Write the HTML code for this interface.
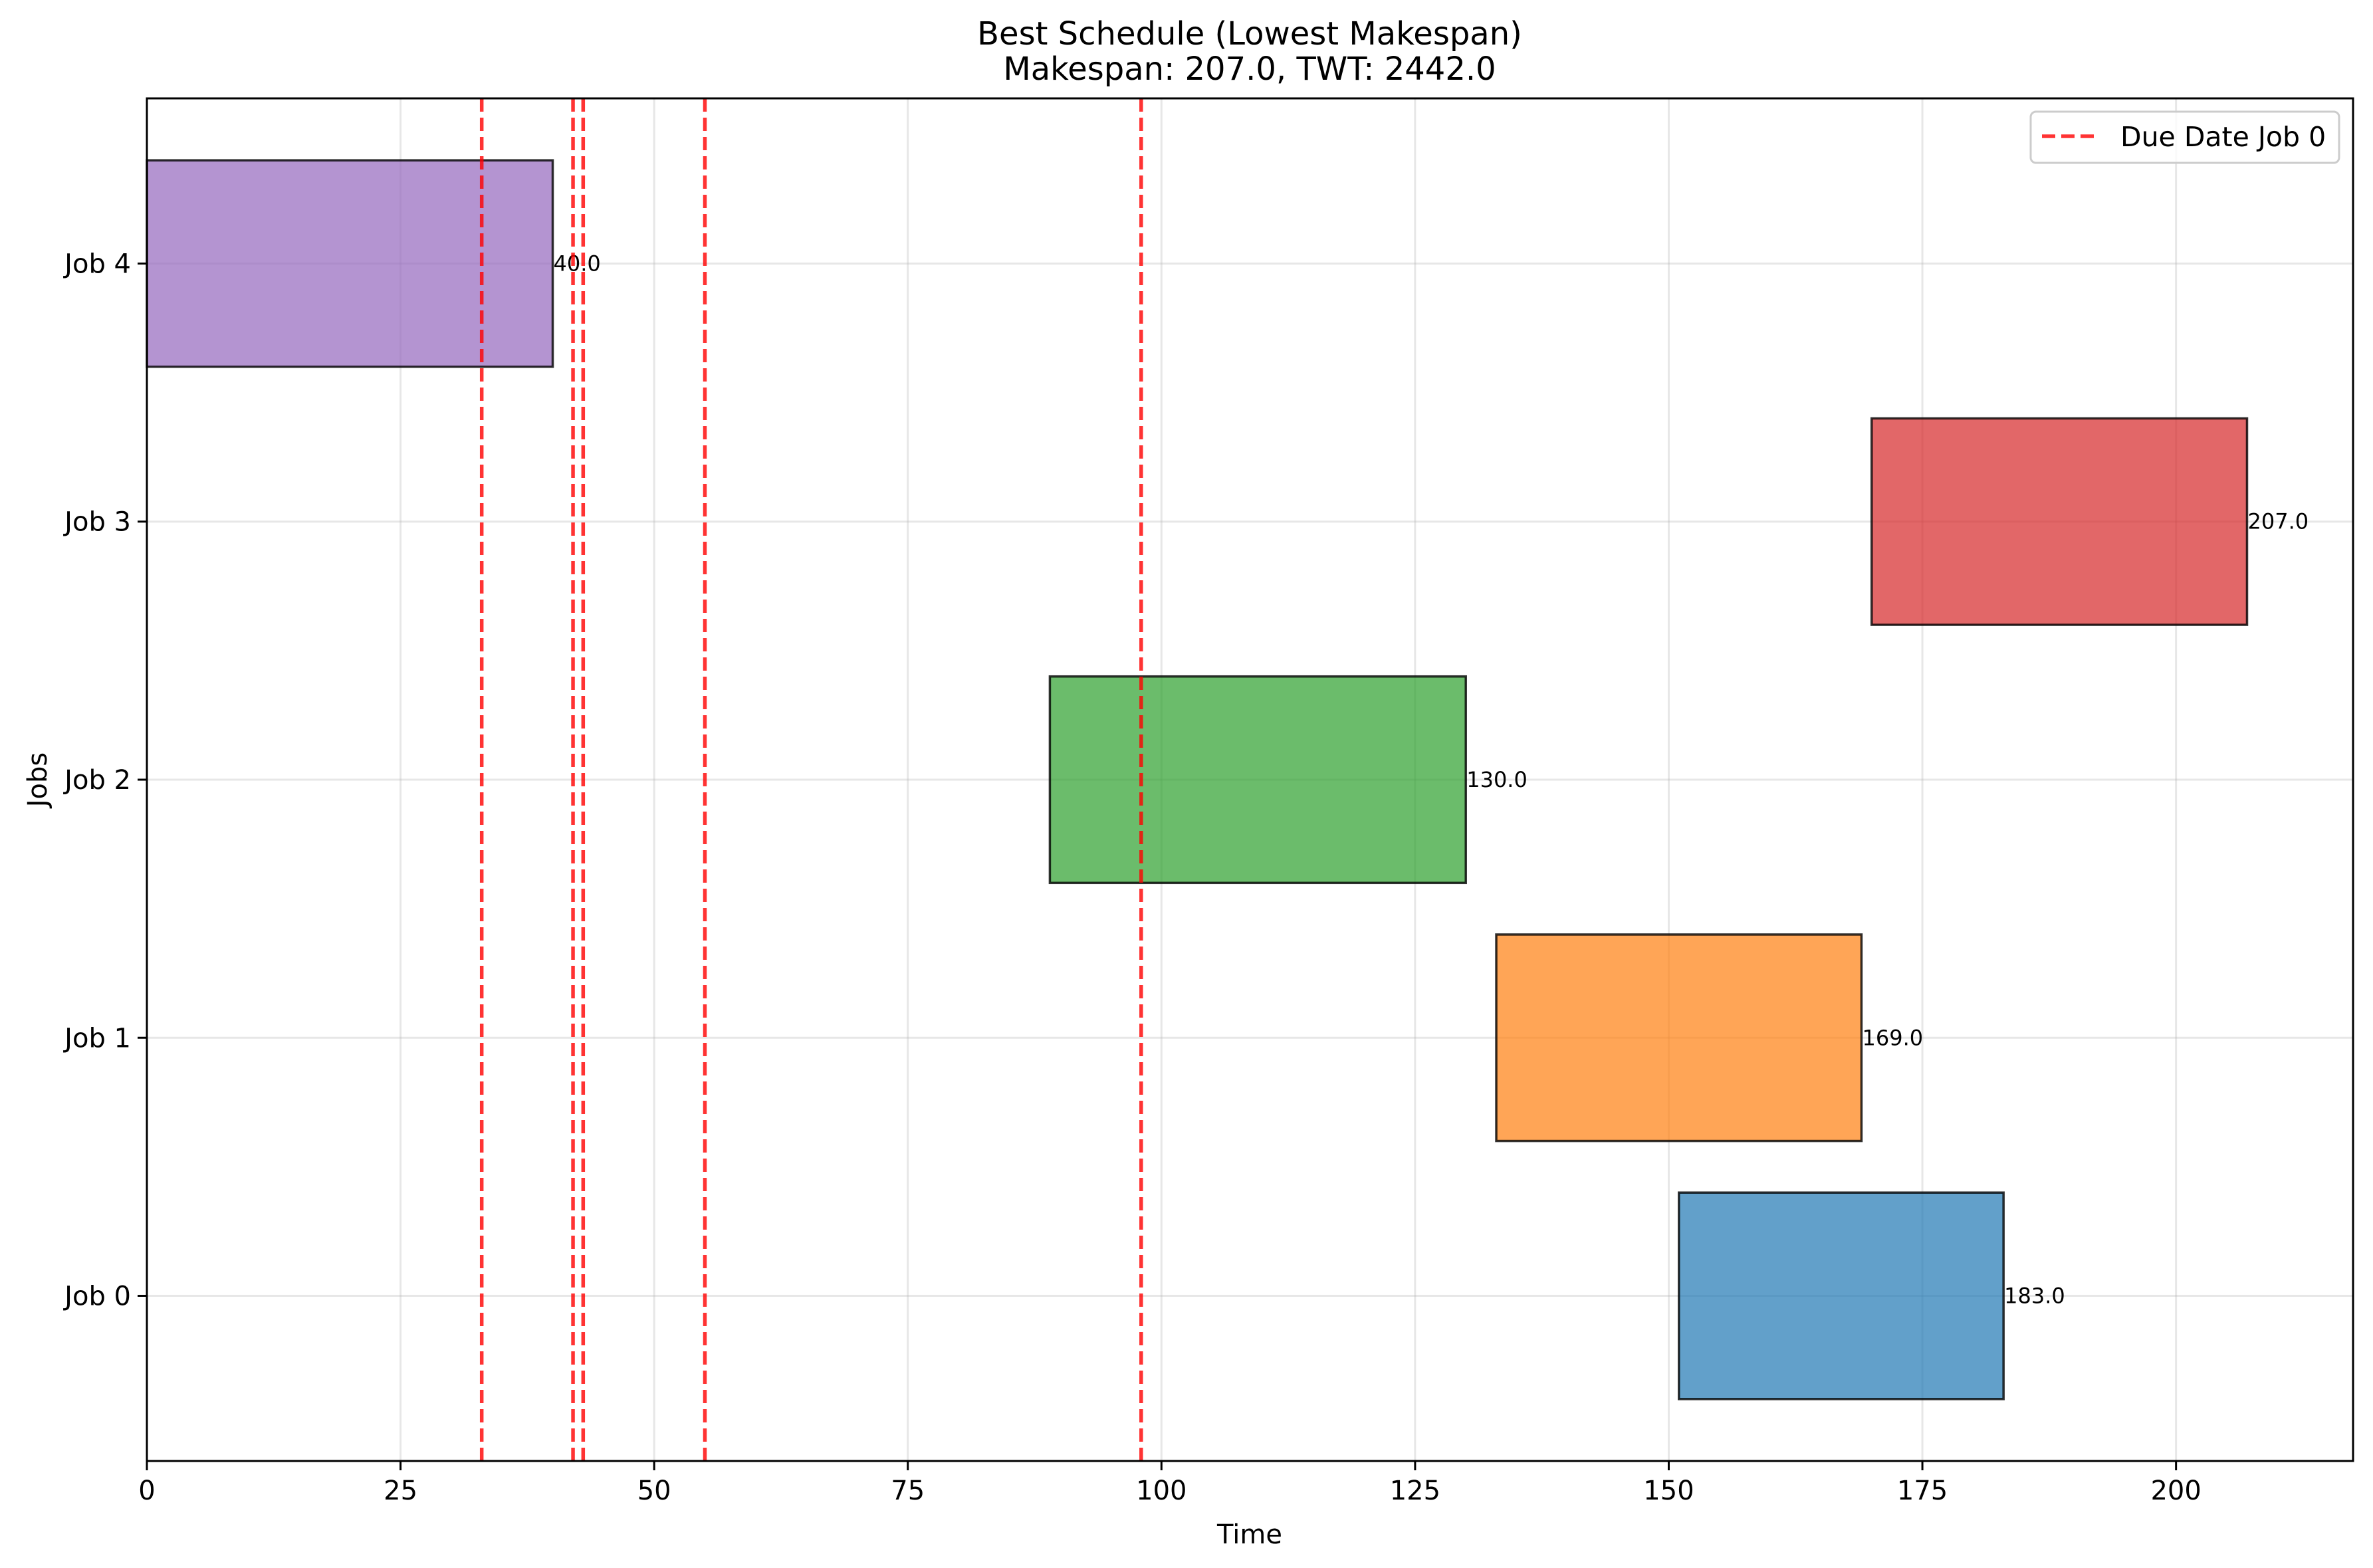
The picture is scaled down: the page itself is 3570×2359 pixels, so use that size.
<!DOCTYPE html>
<html><head><meta charset="utf-8"><style>
html,body{margin:0;padding:0;background:#fff;}
svg{display:block;font-family:"DejaVu Sans","Liberation Sans",sans-serif;}
</style></head><body>
<svg id="chart" width="3570" height="2359" viewBox="0 0 3570 2359" xmlns="http://www.w3.org/2000/svg">
<rect width="3570" height="2359" fill="#fff"/>
<text x="1880" y="67" font-size="48" text-anchor="middle">Best Schedule (Lowest Makespan)</text>
<text x="1880" y="120" font-size="48" text-anchor="middle">Makespan: 207.0, TWT: 2442.0</text>
<g id="grid"></g><g id="marks"></g><g id="dues"></g><g id="axes"></g>
<text x="1880" y="2322" font-size="40" text-anchor="middle">Time</text>
<text x="70" y="1173" font-size="40" text-anchor="middle" transform="rotate(-90 70 1173)">Jobs</text>
<g>
<rect x="3055" y="168" width="464" height="77" rx="8" fill="#fff" fill-opacity="0.8" stroke="#ccc" stroke-width="3"/>
<line x1="3072" y1="205" x2="3156" y2="205" stroke="#ff0000" stroke-opacity="0.8" stroke-width="5.5" stroke-dasharray="20,9"/>
<text x="3190" y="220" font-size="41">Due Date Job 0</text>
</g>
</svg>
<script>
const jobs=["Job 0","Job 1","Job 2","Job 3","Job 4"];
const starts=[151,133,89,170,0];
const ends=[183,169,130,207,40];
const colors=["#1f77b4","#ff7f0e","#2ca02c","#d62728","#9467bd"];
const dueDates=[33,42,43,55,98];
const xTicks=[0,25,50,75,100,125,150,175,200];
const L=221,R=3540,T=148,B=2198,xmin=0,xmax=217.45,ymin=-0.64,ymax=4.64;
const X=v=>L+(v-xmin)/(xmax-xmin)*(R-L);
const Y=v=>B-(v-ymin)/(ymax-ymin)*(B-T);
const NS="http://www.w3.org/2000/svg";
function mk(p,t,a){const e=document.createElementNS(NS,t);for(const k in a)e.setAttribute(k,a[k]);document.getElementById(p).appendChild(e);return e;}
xTicks.forEach(v=>{
 const g=mk('grid','line',{x1:X(v),x2:X(v),y1:T,y2:B,stroke:'#b0b0b0','stroke-opacity':0.3,'stroke-width':3});
 
 
 const t=mk('axes','line',{x1:X(v),x2:X(v),y1:B,y2:B+14,stroke:'#000','stroke-width':3});
 
 
 const l=mk('axes','text',{x:X(v),y:B+58,'font-size':40,'text-anchor':'middle'});l.textContent=v;
 
 
});
jobs.forEach((j,i)=>{
 const g=mk('grid','line',{x1:L,x2:R,y1:Y(i),y2:Y(i),stroke:'#b0b0b0','stroke-opacity':0.3,'stroke-width':3});
 
 
 const t=mk('axes','line',{x1:L-14,x2:L,y1:Y(i),y2:Y(i),stroke:'#000','stroke-width':3});
 
 
 const l=mk('axes','text',{x:L-24,y:Y(i)+14,'font-size':40,'text-anchor':'end'});l.textContent=j;
 
 
 const b=mk('marks','rect',{x:X(starts[i]),y:Y(i+0.4),width:X(ends[i])-X(starts[i]),height:Y(i-0.4)-Y(i+0.4),fill:colors[i],'fill-opacity':0.7,stroke:'#000','stroke-opacity':0.8,'stroke-width':3.5});
 
 
 const v=mk('marks','text',{x:X(ends[i])+1,y:Y(i)+11,'font-size':32});v.textContent=ends[i].toFixed(1);
 
 
});
dueDates.forEach(d=>{
 const l=mk('dues','line',{x1:X(d),x2:X(d),y1:T,y2:B,stroke:'#ff0000','stroke-opacity':0.8,'stroke-width':5.5,'stroke-dasharray':'20,9'});
 
 
});
const f=mk('axes','rect',{x:L,y:T,width:R-L,height:B-T,fill:'none',stroke:'#000','stroke-width':3});


</script>
</body></html>
